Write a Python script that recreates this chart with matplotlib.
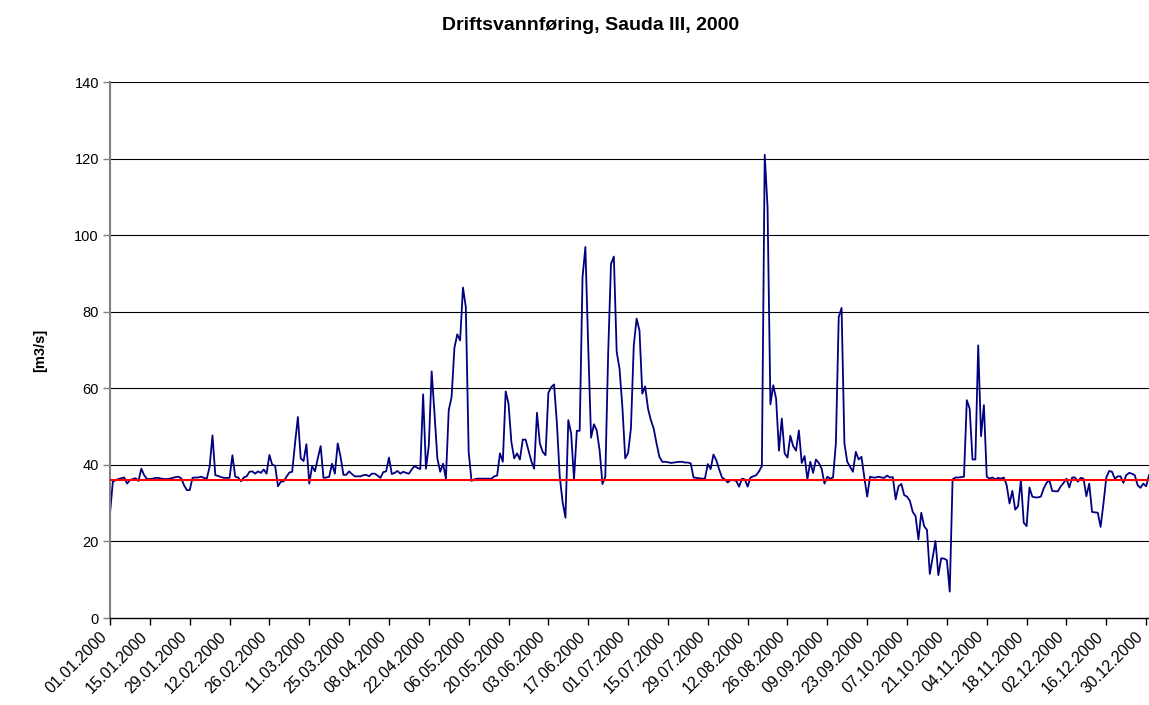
import numpy as np
import pandas as pd
import matplotlib
matplotlib.use("Agg")
import matplotlib.pyplot as plt

# Daily operating discharge, Sauda III, year 2000 [m3/s]
Flow = [
    27.3, 35.6, 36.0, 36.3, 36.5, 36.7, 35.1, 36.0, 36.3, 36.5,
    35.8, 39.0, 37.3, 36.3, 36.3, 36.4, 36.6, 36.6, 36.4, 36.3,
    36.3, 36.4, 36.6, 36.8, 36.9, 36.5, 34.7, 33.4, 33.4, 36.6,
    36.7, 36.7, 36.9, 36.6, 36.4, 39.5, 47.7, 37.3, 37.1, 36.8,
    36.6, 36.6, 36.6, 42.5, 36.9, 36.7, 35.7, 36.7, 37.0, 38.2,
    38.3, 37.7, 38.3, 37.9, 38.8, 37.7, 42.6, 40.0, 39.8, 34.4,
    35.6, 35.7, 36.9, 38.0, 38.2, 45.6, 52.5, 41.7, 41.0, 45.4,
    35.1, 39.7, 38.3, 41.7, 44.9, 36.6, 36.7, 36.9, 40.3, 37.7,
    45.6, 42.1, 37.4, 37.4, 38.3, 37.6, 37.0, 37.0, 37.0, 37.3,
    37.4, 37.0, 37.7, 37.7, 37.2, 36.6, 38.1, 38.3, 41.9, 37.6,
    37.9, 38.4, 37.7, 38.2, 37.9, 37.7, 38.8, 39.7, 39.2, 38.9,
    58.4, 39.0, 45.1, 64.4, 53.4, 41.7, 38.2, 40.3, 36.4, 54.3,
    57.7, 70.6, 74.1, 72.5, 86.3, 81.2, 43.4, 35.8, 36.2, 36.4,
    36.4, 36.4, 36.4, 36.4, 36.4, 37.0, 37.2, 43.0, 40.8, 59.2,
    56.0, 46.0, 41.7, 43.0, 41.4, 46.6, 46.6, 43.8, 41.0, 39.0,
    53.6, 45.6, 43.4, 42.5, 58.8, 60.3, 61.0, 50.8, 36.9, 30.3,
    26.2, 51.7, 48.2, 36.2, 48.9, 48.9, 89.0, 96.9, 70.8, 47.1,
    50.6, 49.0, 43.8, 35.0, 36.9, 69.0, 92.5, 94.4, 69.5, 65.1,
    55.1, 41.7, 43.1, 49.5, 71.2, 78.2, 75.1, 58.6, 60.5, 54.7,
    51.7, 49.5, 45.6, 42.1, 40.8, 40.8, 40.7, 40.5, 40.6, 40.7,
    40.8, 40.8, 40.6, 40.6, 40.4, 36.7, 36.6, 36.5, 36.4, 36.4,
    40.2, 38.9, 42.7, 41.2, 38.8, 36.7, 36.2, 35.4, 36.0, 36.0,
    35.8, 34.3, 36.4, 36.2, 34.3, 36.7, 37.0, 37.3, 38.3, 39.7,
    121.0, 107.3, 55.8, 60.8, 57.3, 43.7, 52.1, 43.0, 41.9, 47.6,
    44.9, 43.7, 49.0, 40.5, 42.3, 36.2, 40.8, 37.9, 41.4, 40.5,
    39.0, 35.1, 36.9, 36.4, 36.7, 45.6, 78.6, 81.0, 45.6, 40.8,
    39.5, 38.2, 43.4, 41.4, 42.1, 36.7, 31.7, 36.9, 36.7, 36.7,
    36.9, 36.7, 36.6, 37.2, 36.7, 36.8, 31.0, 34.4, 35.0, 32.1,
    31.7, 30.6, 27.7, 26.6, 20.5, 27.5, 24.0, 23.0, 11.5, 15.8,
    20.1, 11.2, 15.6, 15.5, 15.1, 6.9, 36.2, 36.7, 36.7, 36.8,
    36.9, 56.9, 54.7, 41.4, 41.4, 71.2, 47.5, 55.6, 36.9, 36.4,
    36.7, 36.2, 36.6, 36.4, 36.7, 34.7, 29.9, 33.2, 28.3, 29.2,
    36.0, 24.9, 24.0, 34.1, 31.7, 31.5, 31.5, 31.7, 33.8, 35.3,
    36.0, 33.2, 33.1, 33.1, 34.4, 35.3, 36.4, 34.1, 36.7, 36.7,
    35.6, 36.6, 36.4, 31.8, 35.1, 27.7, 27.6, 27.5, 23.8, 29.9,
    36.7, 38.4, 38.2, 36.4, 37.0, 37.0, 35.3, 37.3, 37.9, 37.7,
    37.3, 34.7, 34.0, 35.1, 34.4, 37.3,
]
Ref_Level = 36.0          # red reference line [m3/s]
Start_Date = "2000-01-01"
Tick_Step_Days = 14
Y_Ticks = [0, 20, 40, 60, 80, 100, 120, 140]
Title = "Driftsvannføring, Sauda III, 2000"
YLabel = "[m3/s]"

plt.rcParams['font.family'] = ['Liberation Sans', 'DejaVu Sans']

Dates = pd.date_range(Start_Date, periods=len(Flow), freq="D")
Tick_Dates = Dates[::Tick_Step_Days]
Tick_Labels = [d.strftime("%d.%m.%Y") for d in Tick_Dates]

fig = plt.figure(figsize=(11.49, 7.05), dpi=100)
ax = fig.add_axes([110/1149, 87/705, 1039/1149, 536/705])

# horizontal gridlines
for yv in Y_Ticks[1:]:
    ax.axhline(yv, color="black", linewidth=0.8, zorder=1)

ax.plot(Dates, Flow, color="#000080", linewidth=1.3, zorder=2)
ax.axhline(Ref_Level, color="#FF0000", linewidth=1.5, zorder=3)

ax.set_xlim(Dates[0], Dates[-1])
ax.set_ylim(Y_Ticks[0], Y_Ticks[-1])
ax.set_yticks(Y_Ticks)
ax.set_xticks(Tick_Dates)
ax.set_xticklabels(Tick_Labels, rotation=45, ha="right", va="top", fontsize=11.5)
ax.tick_params(axis="y", labelsize=10.5, length=5, width=1, color="#808080", direction="out", pad=3)
ax.tick_params(axis="x", length=5, width=1, direction="out", pad=3)

for side in ["top", "right"]:
    ax.spines[side].set_visible(False)
ax.spines["left"].set_color("#808080")
ax.spines["left"].set_linewidth(1.5)
ax.spines["bottom"].set_color("black")
ax.spines["bottom"].set_linewidth(1)

fig.text(591/1149, 1 - 25/705, Title, ha="center", va="center", fontsize=14, fontweight="bold")
fig.text(40/1149, 1 - 350/705, YLabel, ha="center", va="center", rotation=90, fontsize=10.5, fontweight="bold")

fig.savefig("out.png", dpi=100)
